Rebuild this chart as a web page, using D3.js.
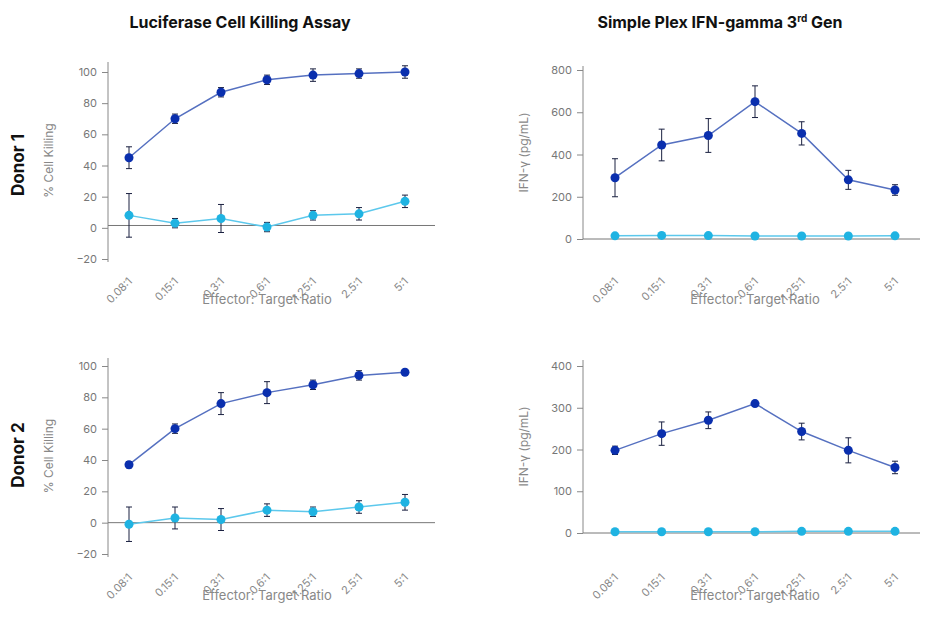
<!DOCTYPE html><html><head><meta charset="utf-8"><script src="https://cdn.jsdelivr.net/npm/d3@7"></script>
<style>body{margin:0;background:#fff}text{font-family:Inter,"Open Sans",sans-serif}</style></head><body><svg width="938" height="620"></svg><script>
const categories=["0.08:1","0.15:1","0.3:1","0.6:1","1.25:1","2.5:1","5:1"];
const d1KillCAR=[45,70,87,95,98,99,100], d1KillCARErr=[7,3,3,3,4,3,4];
const d1KillCtl=[8,3,6,0.5,8,9,17], d1KillCtlErr=[14,3,9,3,3,4,4];
const d1IfnCAR=[290,445,490,650,500,280,232], d1IfnCARErr=[90,75,80,75,55,45,25];
const d1IfnCtl=[15,17,16,14,14,14,15], d1IfnCtlErr=[0,0,0,0,0,0,0];
const d2KillCAR=[37,60,76,83,88,94,96], d2KillCARErr=[2,3,7,7,3,3,1];
const d2KillCtl=[-1,3,2,8,7,10,13], d2KillCtlErr=[11,7,7,4,3,4,5];
const d2IfnCAR=[198,238,270,310,243,198,157], d2IfnCARErr=[10,28,20,3,20,30,15];
const d2IfnCtl=[3,3,3,3,4,4,4], d2IfnCtlErr=[0,0,0,0,0,0,0];
const killTicks=[-20,0,20,40,60,80,100];
const ifn1Ticks=[0,200,400,600,800], ifn2Ticks=[0,100,200,300,400];
const svg=d3.select("svg");
const grey="#888";
function panel(o){
  const g=svg.append("g");
  const x=d3.scalePoint().domain(categories).range([o.x0,o.x1]);
  const y=d3.scaleLinear().domain(o.dom).range(o.rng);
  // y axis
  const ya=g.append("g").attr("transform",`translate(${o.ax},0)`).call(d3.axisLeft(y).tickValues(o.ticks).tickSize(6).tickPadding(5));
  ya.select(".domain").attr("d",`M0,${o.top}V${y(o.dom[0])+ (o.dom[0]<0?3:0)}`).attr("stroke",grey);
  ya.selectAll(".tick line").attr("stroke",grey);
  ya.selectAll("text").attr("fill","#777").attr("font-size",11);
  // baseline
  g.append("line").attr("x1",o.ax).attr("x2",o.xend).attr("y1",y(o.base)).attr("y2",y(o.base)).attr("stroke","#777");
  // x labels
  categories.forEach(c=>{
    g.append("text").attr("transform",`translate(${x(c)+4},${o.lab}) rotate(-45)`).attr("text-anchor","end").attr("fill","#888").attr("font-size",11).text(c);
  });
  g.append("text").attr("x",(o.x0+o.x1)/2).attr("y",o.xt).attr("text-anchor","middle").attr("fill","#888").attr("font-size",13).text("Effector: Target Ratio");
  g.append("text").attr("transform",`translate(${o.ax-55},${(o.top+y(o.dom[0]))/2}) rotate(-90)`).attr("text-anchor","middle").attr("fill","#888").attr("font-size",12).text(o.ylab);
  [[o.ctl,o.ctlE,"#1fb3e2","#5cc8ec"],[o.car,o.carE,"#0a2fae","#5570c0"]].forEach(([v,e,c,lc])=>{
    g.append("path").datum(v).attr("fill","none").attr("stroke",lc).attr("stroke-width",1.5)
     .attr("d",d3.line().x((d,i)=>x(categories[i])).y(d=>y(d)));
    v.forEach((d,i)=>{
      const cx=x(categories[i]);
      if(e[i]>0){
        g.append("line").attr("x1",cx).attr("x2",cx).attr("y1",y(d-e[i])).attr("y2",y(d+e[i])).attr("stroke","#1a2040");
        [d-e[i],d+e[i]].forEach(t=>g.append("line").attr("x1",cx-3).attr("x2",cx+3).attr("y1",y(t)).attr("y2",y(t)).attr("stroke","#1a2040"));
      }
      g.append("circle").attr("cx",cx).attr("cy",y(d)).attr("r",4.5).attr("fill",c);
    });
  });
}
panel({x0:129,x1:405,ax:108,xend:435,top:62,dom:[-20,100],rng:[259,72],ticks:killTicks,base:1.5,lab:282,xt:304,ylab:"% Cell Killing",car:d1KillCAR,carE:d1KillCARErr,ctl:d1KillCtl,ctlE:d1KillCtlErr});
panel({x0:615,x1:895,ax:583,xend:920,top:66,dom:[0,800],rng:[239,70],ticks:ifn1Ticks,base:0,lab:282,xt:304,ylab:"IFN-γ (pg/mL)",car:d1IfnCAR,carE:d1IfnCARErr,ctl:d1IfnCtl,ctlE:d1IfnCtlErr});
panel({x0:129,x1:405,ax:108,xend:435,top:358,dom:[-20,100],rng:[554,366],ticks:killTicks,base:0,lab:578,xt:600,ylab:"% Cell Killing",car:d2KillCAR,carE:d2KillCARErr,ctl:d2KillCtl,ctlE:d2KillCtlErr});
panel({x0:615,x1:895,ax:583,xend:920,top:360,dom:[0,400],rng:[533,366],ticks:ifn2Ticks,base:0,lab:578,xt:600,ylab:"IFN-γ (pg/mL)",car:d2IfnCAR,carE:d2IfnCARErr,ctl:d2IfnCtl,ctlE:d2IfnCtlErr});
svg.append("text").attr("x",240).attr("y",28).attr("text-anchor","middle").attr("font-weight",700).attr("font-size",16).attr("fill","#111").text("Luciferase Cell Killing Assay");
const t2=svg.append("text").attr("x",720).attr("y",28).attr("text-anchor","middle").attr("font-weight",700).attr("font-size",16).attr("fill","#111");
t2.append("tspan").text("Simple Plex IFN-gamma 3");t2.append("tspan").attr("dy",-6).attr("font-size",10).text("rd");t2.append("tspan").attr("dy",6).text(" Gen");
[["Donor 1",165],["Donor 2",455]].forEach(([t,yy])=>svg.append("text").attr("transform",`translate(24,${yy}) rotate(-90)`).attr("text-anchor","middle").attr("font-weight",700).attr("font-size",17).attr("fill","#111").text(t));
</script></body></html>
